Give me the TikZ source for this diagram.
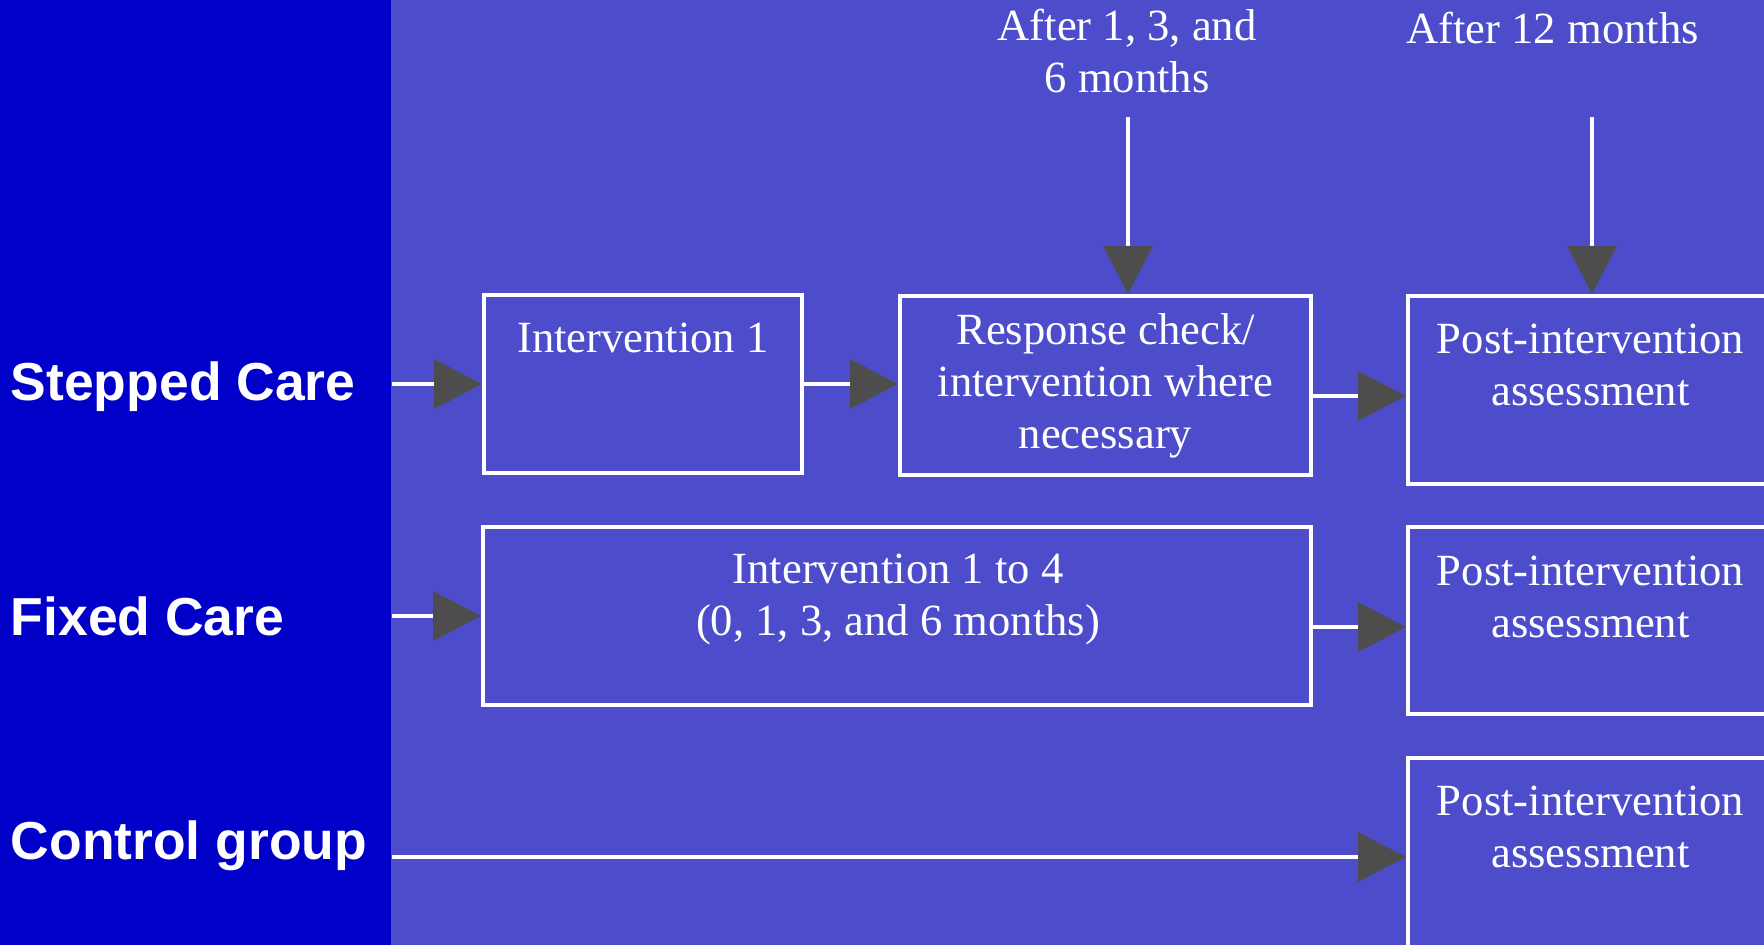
\documentclass[tikz,border=0pt]{standalone}
\usepackage{fontspec}
\setmainfont{Liberation Serif}
\setsansfont{Liberation Sans}
\usetikzlibrary{arrows.meta}

\definecolor{panelblue}{RGB}{0,0,200}
\definecolor{fieldblue}{RGB}{77,77,204}
\definecolor{tipgray}{RGB}{77,77,77}

\tikzset{
  stagebox/.style={draw=white, line width=3pt, fill=none, inner sep=0pt},
  % anchor=base sits on the last line of a multi-line text
  stagetext/.style={text=white, align=center, inner sep=0pt, anchor=base,
    font=\fontsize{33.45}{39}\selectfont},
  grouplabel/.style={text=white, inner sep=0pt, anchor=base west,
    font=\sffamily\bfseries\fontsize{40.1}{45}\selectfont},
  flow/.style={draw=white, line width=3pt,
    -{Triangle[length=36pt, width=37.5pt, color=tipgray, line width=0pt]}},
}

\begin{document}
\begin{tikzpicture}[x=0.75pt, y=-0.75pt]
  \useasboundingbox (0,0) rectangle (1764,945);
  \clip (0,0) rectangle (1764,945);

  % background: field and left label panel
  \fill[fieldblue] (0,0) rectangle (1764,945);
  \node[fill=panelblue, inner sep=0pt, minimum width=293.25pt, minimum height=708.75pt,
        anchor=north west] (panel) at (0,0) {};

  % group labels
  \node[grouplabel] (lstep) at (10.5,400) {Stepped Care};
  \node[grouplabel] (lfix)  at (10.5,635) {Fixed Care};
  \node[grouplabel] (lctl)  at (10.5,859) {Control group};

  % boxes
  \node[stagebox, minimum width=238.5pt, minimum height=133.5pt] (int1) at (643,384) {};
  \node[stagebox, minimum width=308.25pt, minimum height=134.25pt] (resp) at (1105.5,385.5) {};
  \node[stagebox, minimum width=621pt, minimum height=133.5pt] (fixed) at (897,616) {};
  \node[stagebox, minimum width=273.75pt, minimum height=141pt] (post1) at (1590.5,390) {};
  \node[stagebox, minimum width=273.75pt, minimum height=140.25pt] (post2) at (1590.5,620.5) {};
  \node[stagebox, minimum width=273.75pt, minimum height=142.5pt] (post3) at (1590.5,853) {};

  % box texts (positions give the baseline of the last line)
  \node[stagetext] (int1t) at (643,352.7) {Intervention 1};
  \node[stagetext] (respt) at (1105.5,448.3) {Response check/\\intervention where\\necessary};
  \node[stagetext] (fixedt) at (898,635.5) {Intervention 1 to 4\\(0, 1, 3, and 6 months)};
  \node[stagetext] (post1t) at (1590.5,405.5) {Post-intervention\\assessment};
  \node[stagetext] (post2t) at (1590.5,637) {Post-intervention\\assessment};
  \node[stagetext] (post3t) at (1590.5,867.5) {Post-intervention\\assessment};

  % timing notes
  \node[stagetext] (after1) at (1127,93) {After 1, 3, and\\6 months};
  \node[stagetext] (after12) at (1552.5,43.3) {After 12 months};
  \coordinate (m1) at (1128,117);
  \coordinate (m12) at (1592,117);

  % connectors
  \draw[flow] (panel.east |- int1.west) -- (int1.west);
  \draw[flow] (int1.east) -- (resp.west |- int1.east);
  \draw[flow] (resp.east |- 0,396) -- (post1.west |- 0,396);
  \draw[flow] (panel.east |- fixed.west) -- (fixed.west);
  \draw[flow] (fixed.east |- 0,627) -- (post2.west |- 0,627);
  \draw[flow] (panel.east |- 0,857) -- (post3.west |- 0,857);
  \draw[flow] (m1) -- (m1 |- resp.north);
  \draw[flow] (m12) -- (m12 |- post1.north);
\end{tikzpicture}
\end{document}
